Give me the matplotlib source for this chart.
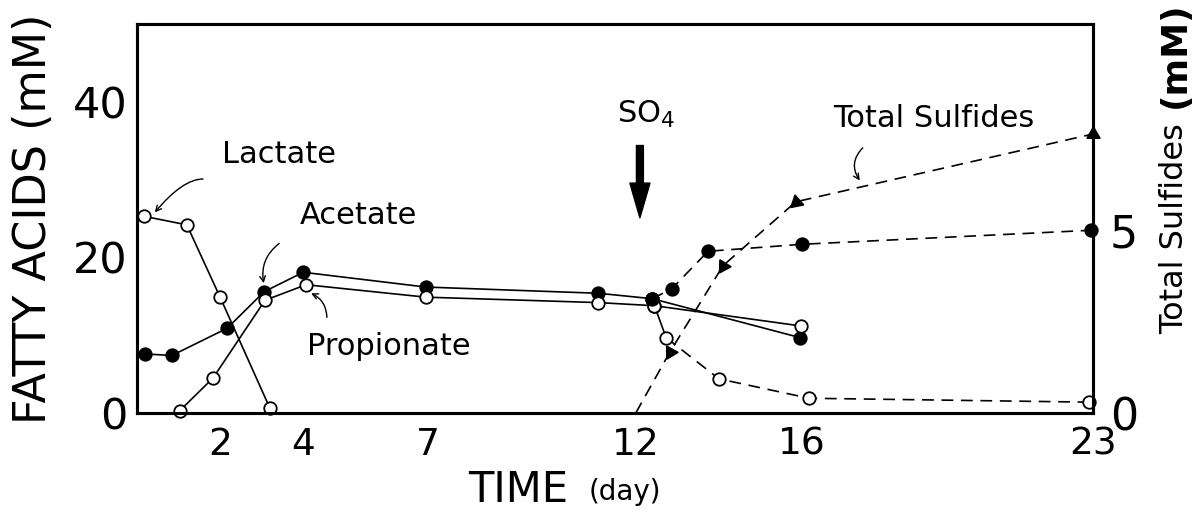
import matplotlib
matplotlib.use("Agg")
import matplotlib.pyplot as plt
import numpy as np

plt.rcParams['font.family'] = ['DejaVu Sans']
plt.rcParams['lines.scale_dashes'] = False

# ---- data (days, mM) ----
lactate_day = [0.17, 1.2, 2.0, 3.2]
lactate = [25.3, 24.2, 14.9, 0.6]

acetate_day = [0.19, 0.84, 2.17, 3.06, 4.0, 6.95, 11.1, 12.4]
acetate = [7.6, 7.4, 10.9, 15.6, 18.1, 16.2, 15.4, 14.7]
acetate_ctrl_day = [12.4, 15.95]
acetate_ctrl = [14.7, 9.7]
acetate_so4_day = [12.4, 12.87, 13.74, 16.0, 22.95]
acetate_so4 = [14.7, 16.0, 20.8, 21.7, 23.5]

propionate_day = [1.03, 1.83, 3.08, 4.07, 6.95, 11.1, 12.45]
propionate = [0.3, 4.5, 14.5, 16.5, 14.9, 14.2, 13.8]
propionate_ctrl_day = [12.45, 15.97]
propionate_ctrl = [13.8, 11.2]
propionate_so4_day = [12.45, 12.73, 14.0, 16.17, 22.9]
propionate_so4 = [13.8, 9.7, 4.4, 1.9, 1.4]

sulfide_day = [12.0, 12.82, 14.1, 15.85, 23.0]
sulfide = [0.0, 1.67, 4.04, 5.79, 7.65]

x_ticks = [2, 4, 7, 12, 16, 23]
left_ticks = [0, 20, 40]
right_ticks = [0, 5]

# ---- figure ----
fig = plt.figure(figsize=(11.94, 5.15), dpi=100)
ax = fig.add_axes([0.1147, 0.198, 0.8007, 0.755])
ax2 = ax.twinx()

ax.set_xlim(0, 23)
ax.set_ylim(0, 50)
ax2.set_ylim(0, 10.66)

lw = 1.2
ms = 9
mew = 1.3
dash = (8.5, 5.5)
open_kw = dict(marker='o', ms=ms, mfc='white', mec='black', mew=mew, color='black', lw=lw)
fill_kw = dict(marker='o', ms=ms, mfc='black', mec='black', mew=mew, color='black', lw=lw)

# solid curves before / without sulfate
ax.plot(lactate_day, lactate, clip_on=False, zorder=4, **open_kw)
ax.plot(acetate_day, acetate, clip_on=False, zorder=4, **fill_kw)
ax.plot(propionate_day, propionate, clip_on=False, zorder=4, **open_kw)
ax.plot(acetate_ctrl_day, acetate_ctrl, zorder=4, **fill_kw)
ax.plot(propionate_ctrl_day, propionate_ctrl, zorder=4, **open_kw)

# after sulfate addition
ax.plot(acetate_so4_day, acetate_so4, dashes=dash, clip_on=False, zorder=4, **fill_kw)
ax.plot(propionate_so4_day[:2], propionate_so4[:2], zorder=3, color='black', lw=lw)
ax.plot(propionate_so4_day[1:], propionate_so4[1:], dashes=dash, clip_on=False, zorder=4, **open_kw)

# total sulfides, triangles pointing along the curve
ax2.plot(sulfide_day, sulfide, color='black', lw=lw, dashes=dash, clip_on=False, zorder=4)
pts = ax2.transData.transform(np.column_stack([sulfide_day, sulfide]))
for i in range(1, len(sulfide_day)):
    if i == len(sulfide_day) - 1:
        rot = 0
    else:
        d = pts[i - 1] - pts[i]
        rot = np.degrees(np.arctan2(d[1], d[0])) - 90
    ax2.plot(sulfide_day[i], sulfide[i], marker=(3, 0, rot), ms=11, color='black',
             clip_on=False, zorder=5)

# axes styling
for a in (ax, ax2):
    for s in a.spines.values():
        s.set_linewidth(2.2)
ax.set_xticks(x_ticks)
ax.set_xticklabels([str(t) for t in x_ticks])
ax.set_yticks(left_ticks)
ax2.set_yticks(right_ticks)
ax.tick_params(axis='x', length=0, pad=10, labelsize=27)
ax.tick_params(axis='y', length=0, pad=7, labelsize=31)
ax2.tick_params(axis='y', length=0, pad=12, labelsize=32)

# series labels with pointer arrows
txt = 22
arr = dict(arrowstyle='->', lw=1.0, color='black', shrinkA=0, shrinkB=0)
ax.text(3.42, 33.3, 'Lactate', fontsize=txt, ha='center', va='center')
ax.annotate('', xy=(0.43, 25.8), xytext=(1.59, 30.1),
            arrowprops=dict(arr, connectionstyle='angle3,angleA=180,angleB=50'))
ax.text(5.34, 25.4, 'Acetate', fontsize=txt, ha='center', va='center')
ax.annotate('', xy=(3.05, 16.7), xytext=(3.42, 21.8),
            arrowprops=dict(arr, connectionstyle='arc3,rad=0.3'))
ax.text(6.06, 8.5, 'Propionate', fontsize=txt, ha='center', va='center')
ax.annotate('', xy=(4.19, 15.4), xytext=(4.57, 12.3),
            arrowprops=dict(arr, connectionstyle='arc3,rad=0.3'))
ax.text(19.17, 37.9, 'Total Sulfides', fontsize=txt, ha='center', va='center')
ax.annotate('', xy=(17.39, 29.9), xytext=(17.46, 34.1),
            arrowprops=dict(arr, connectionstyle='arc3,rad=0.4'))

# sulfate addition marker
ax.text(12.25, 38.4, 'SO$_4$', fontsize=txt, ha='center', va='center')
ax.annotate('', xy=(12.1, 25.1), xytext=(12.1, 34.4),
            arrowprops=dict(width=5, headwidth=14.5, headlength=25, color='black'))

# axis titles
fig.text(0.028, 0.575, 'FATTY ACIDS (mM)', rotation=90, fontsize=32,
         ha='center', va='center')
fig.text(0.984, 0.557, 'Total Sulfides', rotation=90, fontsize=23,
         ha='center', va='center')
fig.text(0.984, 0.893, '(mM)', rotation=90, fontsize=26, fontweight='bold',
         ha='center', va='center')
fig.text(0.434, 0.048, 'TIME', fontsize=30, ha='center', va='center')
fig.text(0.523, 0.045, '(day)', fontsize=20, ha='center', va='center')

fig.savefig('out.png', dpi=100)
